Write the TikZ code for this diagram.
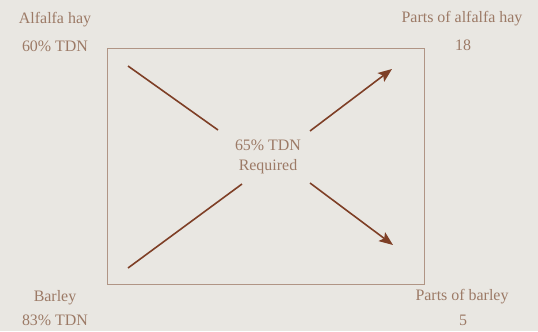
\documentclass[tikz,border=0pt]{standalone}
\usepackage{fontspec}
\setmainfont{Liberation Serif}
\usetikzlibrary{arrows.meta}
\definecolor{paper}{HTML}{E9E7E2}
\definecolor{ink}{HTML}{9C7A66}
\definecolor{rust}{HTML}{7E3F26}
\tikzset{
  lbl/.style={text=ink, font=\fontsize{16}{18}\selectfont, inner sep=0pt},
  bar/.style={rust, line width=1.6pt},
  frame/.style={draw=ink!80, line width=0.6pt},
  tip/.style={-{Stealth[length=14pt,width=11pt,inset=3pt]}}
}
\begin{document}
\begin{tikzpicture}[x=1bp,y=-1bp]
    % --------------------
    % Paper
    % --------------------
    \fill[paper] (0,0) rectangle (538,331);
    \useasboundingbox (0,0) rectangle (538,331);

    % --------------------
    % Square
    % --------------------
    \draw[frame] (107,48) rectangle (424,284);

    % --------------------
    % Corner labels
    % --------------------
    \node[lbl] (hay) at (55,20) {Alfalfa hay};
    \node[lbl] (haytdn) at (55,46) {60\% TDN};
    \node[lbl] (barley) at (55,298) {Barley};
    \node[lbl] (barleytdn) at (55,320) {83\% TDN};
    \node[lbl] (hayparts) at (462,19) {Parts of alfalfa hay};
    \node[lbl] (haynum) at (463,45) {18};
    \node[lbl] (barleyparts) at (462,297) {Parts of barley};
    \node[lbl] (barleynum) at (463,320) {5};

    % --------------------
    % Centre
    % --------------------
    \node[lbl] (req) at (268,145) {65\% TDN};
    \node[lbl] (reqb) at (268,167) {Required};

    % --------------------
    % Arrows
    % --------------------
    \coordinate (tl) at (128,66);
    \coordinate (tlin) at (218,130);
    \coordinate (bl) at (128,268);
    \coordinate (blin) at (242,184);
    \coordinate (tr) at (392,69);
    \coordinate (trin) at (310,131);
    \coordinate (br) at (393,245);
    \coordinate (brin) at (310,183);

    \draw[bar] (tl) -- (tlin);
    \draw[bar] (bl) -- (blin);
    \draw[bar, tip] (trin) -- (tr);
    \draw[bar, tip] (brin) -- (br);
\end{tikzpicture}
\end{document}
